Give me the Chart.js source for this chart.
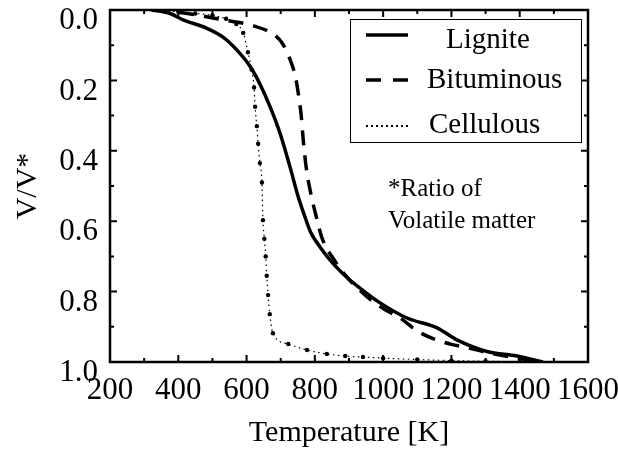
<!DOCTYPE html>
<html><head><meta charset="utf-8">
<script src="https://cdn.jsdelivr.net/npm/chart.js@4/dist/chart.umd.min.js"></script>
<style>html,body{margin:0;padding:0;background:#fff}canvas{display:block}</style>
</head><body>
<canvas id="c" width="618" height="451"></canvas>
<script>
const xTicks = [200, 400, 600, 800, 1000, 1200, 1400, 1600];
const yTicks = [0.0, 0.2, 0.4, 0.6, 0.8, 1.0];
const seriesNames = ["Lignite", "Bituminous", "Cellulous"];

const ligniteT = [326, 376, 414, 484, 531, 572, 610, 639, 669, 698, 727, 751, 770, 788, 815, 853, 894, 932, 991, 1070, 1158, 1216, 1304, 1392, 1468];
const ligniteV = [0.0, 0.01, 0.028, 0.052, 0.077, 0.114, 0.16, 0.21, 0.275, 0.35, 0.445, 0.53, 0.585, 0.632, 0.673, 0.72, 0.76, 0.79, 0.832, 0.875, 0.903, 0.937, 0.97, 0.983, 1.0];

const bitT = [330, 440, 520, 620, 680, 705, 725, 742, 752, 760, 767, 775, 790, 805, 820, 860, 900, 950, 1000, 1050, 1100, 1150, 1200, 1250, 1300, 1400, 1460];
const bitV = [0.0, 0.012, 0.026, 0.045, 0.07, 0.095, 0.135, 0.185, 0.24, 0.3, 0.38, 0.45, 0.53, 0.59, 0.645, 0.715, 0.765, 0.812, 0.848, 0.875, 0.912, 0.935, 0.95, 0.96, 0.972, 0.99, 1.0];

const celT = [326, 400, 450, 500, 540, 570, 590, 604, 615, 622, 625, 630, 634, 639, 645, 648, 652, 656, 659, 663, 668, 677, 722, 777, 835, 889, 941, 1000, 1100, 1200, 1300, 1400, 1460];
const celV = [0.0, 0.005, 0.01, 0.015, 0.025, 0.04, 0.065, 0.12, 0.17, 0.22, 0.275, 0.33, 0.38, 0.435, 0.49, 0.597, 0.65, 0.70, 0.755, 0.81, 0.864, 0.918, 0.949, 0.966, 0.977, 0.983, 0.986, 0.989, 0.993, 0.996, 0.998, 0.999, 1.0];

const pts = (xs, ys) => xs.map((x, i) => ({x: x, y: ys[i]}));
const FONT = "'Liberation Serif', 'Times New Roman', serif";

const framePlugin = {
  id: 'frame',
  afterDraw(chart) {
    const ctx = chart.ctx, a = chart.chartArea;
    const xs = chart.scales.x, ys = chart.scales.y;
    ctx.save();
    ctx.strokeStyle = '#000';
    ctx.lineWidth = 2.5;
    ctx.strokeRect(a.left, a.top, a.right - a.left, a.bottom - a.top);
    ctx.lineWidth = 2;
    ctx.beginPath();
    for (let v = xs.min; v <= xs.max + 1e-6; v += 100) {
      const px = xs.getPixelForValue(v);
      const L = (Math.round(v) % 200 === 0) ? 7 : 4;
      ctx.moveTo(px, a.bottom); ctx.lineTo(px, a.bottom - L);
      ctx.moveTo(px, a.top); ctx.lineTo(px, a.top + L);
    }
    for (let k = 0; k <= 10; k++) {
      const py = ys.getPixelForValue(k / 10);
      const L = (k % 2 === 0) ? 7 : 4;
      ctx.moveTo(a.left, py); ctx.lineTo(a.left + L, py);
      ctx.moveTo(a.right, py); ctx.lineTo(a.right - L, py);
    }
    ctx.stroke();

    // legend
    ctx.lineWidth = 1;
    ctx.strokeRect(350.5, 19.5, 231, 123);
    const rows = [
      {lineY: 35, textY: 48, textX: 446, dash: [], w: 3.5},
      {lineY: 80, textY: 88, textX: 427, dash: [15, 12], w: 3.5},
      {lineY: 126, textY: 133, textX: 429, dash: [2, 3], w: 2}
    ];
    ctx.fillStyle = '#000';
    ctx.font = "29px " + FONT;
    ctx.textBaseline = 'alphabetic';
    rows.forEach((r, i) => {
      ctx.beginPath();
      ctx.setLineDash(r.dash);
      ctx.lineWidth = r.w;
      ctx.moveTo(366, r.lineY); ctx.lineTo(408, r.lineY);
      ctx.stroke();
      ctx.setLineDash([]);
      ctx.fillText(seriesNames[i], r.textX, r.textY);
    });

    ctx.font = "25px " + FONT;
    ctx.fillText("*Ratio of", 388, 196);
    ctx.fillText("Volatile matter", 388, 228);
    ctx.restore();
  }
};

new Chart(document.getElementById('c'), {
  type: 'line',
  data: {
    datasets: [
      {label: seriesNames[0], data: pts(ligniteT, ligniteV), borderColor: '#000', borderWidth: 3.5,
       pointRadius: 0, cubicInterpolationMode: 'monotone', fill: false},
      {label: seriesNames[1], data: pts(bitT, bitV), borderColor: '#000', borderWidth: 3.5, borderDash: [15, 10],
       pointRadius: 0, cubicInterpolationMode: 'monotone', fill: false},
      {label: seriesNames[2], data: pts(celT, celV), borderColor: '#000', borderWidth: 1.2, borderDash: [1.5, 3.5],
       pointRadius: 2.2, pointBackgroundColor: '#000', pointBorderWidth: 0,
       cubicInterpolationMode: 'monotone', fill: false}
    ]
  },
  options: {
    responsive: false,
    animation: false,
    layout: {padding: {top: 10, right: 30, left: 0, bottom: 0}},
    plugins: {legend: {display: false}, tooltip: {enabled: false}},
    scales: {
      x: {
        type: 'linear', min: 200, max: 1600,
        afterBuildTicks: (s) => { s.ticks = xTicks.map(v => ({value: v})); },
        afterFit: (s) => { s.height = 89; s.paddingLeft = 0; s.paddingRight = 0; },
        grid: {display: false, drawTicks: false},
        border: {display: false},
        ticks: {color: '#000', font: {family: FONT, size: 31}, padding: 10, maxRotation: 0, autoSkip: false,
                callback: (v) => String(Math.round(v))},
        title: {display: true, text: 'Temperature [K]', color: '#000', font: {family: FONT, size: 30}, padding: {top: 0, bottom: 0}}
      },
      y: {
        type: 'linear', min: 0, max: 1, reverse: true,
        afterBuildTicks: (s) => { s.ticks = yTicks.map(v => ({value: v})); },
        afterFit: (s) => { s.width = 110; s.paddingTop = 0; s.paddingBottom = 0; },
        grid: {display: false, drawTicks: false},
        border: {display: false},
        ticks: {color: '#000', font: {family: FONT, size: 31}, padding: 12, labelOffset: 11,
                callback: (v) => Number(v).toFixed(1)},
        title: {display: true, text: 'V/V*', color: '#000', font: {family: FONT, size: 30}, padding: {top: 10, bottom: 0}}
      }
    }
  },
  plugins: [framePlugin]
});
</script>
</body></html>
